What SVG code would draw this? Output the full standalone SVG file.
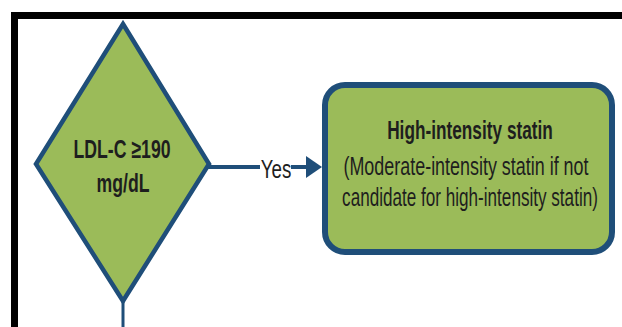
<svg xmlns="http://www.w3.org/2000/svg" width="622" height="327" viewBox="0 0 622 327">
<defs>
<style>
.shape{fill:#9bbb59;stroke:#1f4e79;stroke-linejoin:miter}
.t{font-family:"Liberation Sans",Arial,sans-serif;fill:#1e1e1e;text-anchor:middle}
.b{font-weight:bold}
.conn{stroke:#1f4e79;fill:none}
</style>
</defs>
<rect x="0" y="0" width="622" height="327" fill="#ffffff"/>
<rect x="14.5" y="15.5" width="700" height="400" fill="none" stroke="#000000" stroke-width="7"/>
<g id="connectors">
<line class="conn" x1="123" y1="300" x2="123" y2="327" stroke-width="3"/>
<line class="conn" x1="208" y1="167" x2="260" y2="167" stroke-width="4"/>
<line class="conn" x1="291" y1="167" x2="308" y2="167" stroke-width="4"/>
<polygon points="306,156 322,167 306,178" fill="#1f4e79"/>
<text class="t" transform="translate(276,178) scale(0.75,1)" font-size="25">Yes</text>
</g>
<g id="decision">
<polygon class="shape" points="123,24 209,164 123,301 36,164" stroke-width="4.5"/>
<text class="t b" transform="translate(122,158) scale(0.68,1)" font-size="26">LDL-C ≥190</text>
<text class="t b" transform="translate(123,192) scale(0.68,1)" font-size="26">mg/dL</text>
</g>
<g id="action">
<rect class="shape" x="325" y="85" width="287" height="167" rx="20" ry="20" stroke-width="6"/>
<text class="t b" transform="translate(470,139) scale(0.69,1)" font-size="25">High-intensity statin</text>
<text class="t" transform="translate(466,175) scale(0.717,1)" font-size="25">(Moderate-intensity statin if not</text>
<text class="t" transform="translate(470,206) scale(0.685,1)" font-size="25">candidate for high-intensity statin)</text>
</g>
</svg>
